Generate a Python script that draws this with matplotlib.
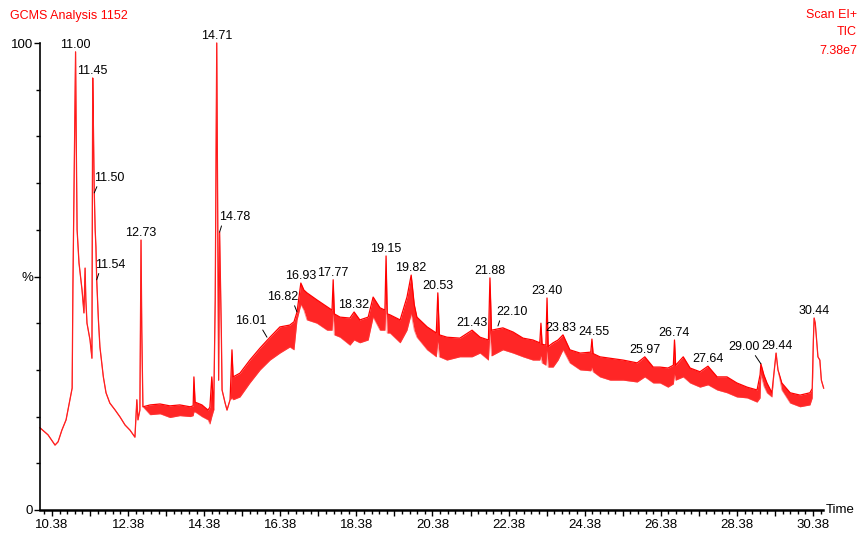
import matplotlib
matplotlib.use("Agg")
import numpy as np
import matplotlib.pyplot as plt

plt.rcParams['font.family'] = ['Liberation Sans', 'DejaVu Sans']

RED = "#ff0000"
FS = 9

# retention time (min), upper edge of the trace and lower edge of the noise
rt = [10.065, 10.275, 10.46, 10.54, 10.64, 10.75, 10.85, 10.91, 10.93, 10.97,
      11.00, 11.02, 11.04, 11.09, 11.17, 11.22, 11.25, 11.27, 11.30, 11.38,
      11.43, 11.45, 11.47, 11.49, 11.515, 11.535, 11.555, 11.60, 11.64, 11.73,
      11.80, 11.90, 12.04, 12.17, 12.30, 12.43, 12.56, 12.61, 12.64, 12.69,
      12.72, 12.74, 12.77,
      12.96, 13.22, 13.48, 13.74, 14.01, 14.09, 14.11, 14.14, 14.32, 14.48,
      14.53, 14.58, 14.63, 14.67, 14.71, 14.74, 14.76, 14.785, 14.83, 14.85,
      14.93, 14.98, 15.06, 15.11, 15.14,
      15.32, 15.58, 15.85, 16.11, 16.37, 16.63, 16.74, 16.82, 16.92, 17.00,
      17.08, 17.34, 17.61, 17.74, 17.77, 17.80, 17.95, 18.21, 18.32, 18.47,
      18.69, 18.82, 19.00, 19.13, 19.16, 19.19, 19.26, 19.53, 19.71, 19.82,
      19.90, 19.97, 20.24, 20.48, 20.52, 20.56, 20.76, 21.10, 21.42, 21.63,
      21.85, 21.89, 21.93, 22.23, 22.50, 22.76, 23.02, 23.20, 23.23, 23.26,
      23.36, 23.39, 23.42, 23.55, 23.68, 23.81, 23.99, 24.26, 24.54, 24.57,
      24.60, 24.78, 25.05, 25.39, 25.76, 25.96, 26.18, 26.36, 26.57, 26.71,
      26.74, 26.77, 26.97, 27.15, 27.41, 27.62, 27.86, 28.12, 28.38, 28.65,
      28.91, 28.99, 29.01, 29.09, 29.17, 29.30, 29.35, 29.41, 29.46, 29.56,
      29.78, 30.04, 30.30, 30.36, 30.39, 30.41, 30.44, 30.47, 30.51, 30.56,
      30.60, 30.66]

tic_hi = [17.6, 16.1, 13.9, 14.6, 17.1, 19.3, 23.6, 26.1, 47.8, 77.1,
          98.1, 77.0, 60.0, 52.9, 47.1, 42.2, 51.8, 45.0, 40.0, 36.4,
          32.5, 92.5, 81.4, 68.5, 60.0, 56.3, 49.3, 40.7, 34.9, 28.5,
          25.1, 22.9, 21.4, 19.9, 18.2, 17.1, 15.6, 23.6, 19.3, 21.4,
          57.8, 38.5, 22.1,
          22.5, 22.7, 22.3, 22.5, 22.1, 22.3, 28.5, 23.1, 22.5, 21.4,
          22.0, 28.5, 21.4, 45.0, 100.0, 55.7, 27.8, 59.5, 38.5, 25.7,
          22.9, 21.4, 23.6, 34.3, 28.5,
          29.3, 32.1, 34.7, 37.0, 39.2, 39.6, 40.3, 42.4, 48.6, 47.1,
          46.5, 45.0, 43.5, 42.8, 49.3, 42.0, 41.3, 41.1, 42.4, 40.7,
          41.3, 45.6, 43.3, 42.8, 54.4, 42.0, 41.8, 40.7, 45.6, 50.3,
          44.0, 41.3, 39.2, 37.9, 46.5, 37.5, 37.0, 36.8, 38.5, 37.0,
          36.4, 49.7, 38.5, 39.0, 38.1, 36.8, 36.4, 35.8, 40.0, 35.5,
          35.3, 45.4, 35.0, 35.8, 36.4, 37.5, 34.3, 33.6, 33.8, 36.6,
          33.5, 32.8, 32.5, 32.1, 31.5, 32.8, 30.6, 30.6, 30.4, 31.0,
          36.4, 31.0, 32.8, 30.4, 29.6, 30.8, 28.5, 28.5, 27.2, 26.3,
          25.7, 29.0, 31.3, 28.9, 27.2, 25.1, 28.9, 33.6, 30.0, 27.2,
          25.1, 24.6, 25.1, 26.0, 36.4, 41.1, 40.0, 37.0, 32.8, 32.1,
          27.8, 26.1]

tic_lo = [17.6, 16.1, 13.9, 14.6, 17.1, 19.3, 23.6, 26.1, 47.8, 77.1,
          98.1, 77.0, 60.0, 52.9, 47.1, 42.2, 51.8, 45.0, 40.0, 36.4,
          32.5, 92.5, 81.4, 68.5, 60.0, 56.3, 49.3, 40.7, 34.9, 28.5,
          25.1, 22.9, 21.4, 19.9, 18.2, 17.1, 15.6, 23.6, 19.3, 21.4,
          57.8, 38.5, 22.1,
          20.4, 20.6, 19.8, 20.2, 20.0, 20.2, 21.0, 21.0, 20.0, 19.3,
          18.4, 20.0, 21.4, 45.0, 100.0, 55.7, 27.8, 59.5, 38.5, 25.7,
          22.9, 21.4, 23.6, 24.0, 23.6,
          24.2, 27.2, 30.0, 32.1, 33.6, 34.9, 34.3, 40.7, 44.0, 42.8,
          40.7, 40.0, 38.5, 38.5, 42.0, 37.5, 37.0, 35.3, 36.4, 35.8,
          36.4, 41.3, 38.5, 38.5, 44.0, 37.9, 37.9, 35.8, 38.5, 42.0,
          38.5, 37.0, 34.3, 32.8, 36.0, 32.8, 32.1, 32.8, 32.8, 33.6,
          32.1, 38.0, 33.0, 34.3, 33.6, 32.8, 32.1, 32.1, 33.0, 31.5,
          31.0, 34.0, 30.6, 30.6, 32.1, 34.3, 31.5, 30.0, 29.8, 30.5,
          29.6, 28.5, 27.8, 27.8, 27.4, 28.5, 27.2, 27.2, 26.3, 27.0,
          29.0, 27.8, 28.5, 27.2, 26.3, 26.8, 25.7, 25.1, 24.2, 24.0,
          23.1, 24.0, 29.0, 26.5, 25.1, 24.2, 28.9, 33.6, 30.0, 25.7,
          22.9, 22.1, 22.5, 24.0, 36.4, 41.1, 40.0, 37.0, 32.8, 32.1,
          27.8, 26.1]

# labelled peaks: text, retention time and height of the point it marks
peak_labels = ["11.00", "11.45", "11.50", "11.54", "12.73", "14.71", "14.78",
               "16.01", "16.82", "16.93", "17.77", "18.32", "19.15", "19.82",
               "20.53", "21.43", "21.88", "22.10", "23.40", "23.83", "24.55",
               "25.97", "26.74", "27.64", "29.00", "29.44", "30.44"]
peak_rt = [11.00, 11.45, 11.49, 11.555, 12.72, 14.71, 14.785,
           16.03, 16.82, 16.92, 17.77, 18.32, 19.16, 19.82,
           20.52, 21.42, 21.89, 22.10, 23.39, 23.81, 24.57,
           25.96, 26.74, 27.62, 29.01, 29.41, 30.41]
peak_pct = [98.1, 92.5, 67.9, 49.3, 57.8, 100.0, 59.5,
            37.0, 42.4, 48.6, 49.3, 42.4, 54.4, 50.3,
            46.5, 38.5, 49.7, 39.4, 45.4, 37.5, 36.6,
            32.8, 36.4, 30.8, 31.3, 33.6, 41.1]

# labels drawn with a short leader line: (dx, dy) pixels of text centre, line start on text box
leaders = {
    "11.50": ((15, 15), (0.15, 0.1)),
    "11.54": ((14, 15), (0.15, 0.1)),
    "14.78": ((15, 15), (0.12, 0.1)),
    "16.01": ((-16, 16), (0.8, 0.1)),
    "16.82": ((-14, 15), (0.82, 0.1)),
    "22.10": ((14, 14), (0.15, 0.1)),
    "29.00": ((-17, 17), (0.78, 0.1)),
}
# small sideways nudges (pixels) so neighbouring labels do not touch
nudge = {"23.83": -2, "24.55": 2, "29.44": 1}

x_tick_labels = ["10.38", "12.38", "14.38", "16.38", "18.38", "20.38",
                 "22.38", "24.38", "26.38", "28.38", "30.38"]

fig = plt.figure(figsize=(8.59, 5.36), dpi=100)
ax = fig.add_axes([40 / 859, 26 / 536, 783 / 859, 467 / 536])

# noise band between the two edges, then the edges themselves
ax.fill_between(rt, tic_lo, tic_hi, color=RED, alpha=0.85, lw=0)
ax.plot(rt, tic_hi, color=RED, lw=0.9, clip_on=False)
ax.plot(rt, tic_lo, color="#ff4040", lw=0.6, alpha=0.6, clip_on=False)

ax.set_xlim(10.065, 30.643)
ax.set_ylim(0, 100)

for side in ("top", "right"):
    ax.spines[side].set_visible(False)
ax.spines["left"].set_linewidth(1.2)
ax.spines["bottom"].set_linewidth(1.8)

# x ticks: long tick every minute, label every two, short tick every 0.2
major_x = [float(x_tick_labels[0]) + i for i in range(21)]
major_lbl = [x_tick_labels[i // 2] if i % 2 == 0 else "" for i in range(21)]
ax.set_xticks(major_x)
ax.set_xticklabels(major_lbl)
ax.set_xticks(np.arange(10.18, 30.64, 0.2), minor=True)

ax.set_yticks([0, 50, 100])
ax.set_yticklabels(["0", "%", "100"])
ax.set_yticks(np.arange(0, 101, 10), minor=True)

ax.tick_params(axis="both", which="major", length=4.5, width=1, labelsize=FS + 0.5,
               colors="black", pad=2)
ax.tick_params(axis="both", which="minor", length=3, width=1)
ax.tick_params(axis="y", which="major", pad=0.5)

for lbl, t, p in zip(peak_labels, peak_rt, peak_pct):
    if lbl in leaders:
        (dx, dy), rel = leaders[lbl]
        ax.annotate(lbl, xy=(t, p), xytext=(dx, dy), textcoords="offset pixels",
                    ha="center", va="center", fontsize=FS, annotation_clip=False,
                    arrowprops=dict(arrowstyle="-", color="black", lw=0.7,
                                    shrinkA=0, shrinkB=0, relpos=rel))
    else:
        ax.annotate(lbl, xy=(t, p), xytext=(nudge.get(lbl, 0), 4),
                    textcoords="offset pixels", ha="center", va="baseline",
                    fontsize=FS, annotation_clip=False)

ax.text(1.004, 0, "Time", transform=ax.transAxes, ha="left", va="center",
        fontsize=FS + 0.5)

fig.text(10 / 859, 1 - 16 / 536, "GCMS Analysis 1152", color=RED, fontsize=FS,
         ha="left", va="center")
fig.text(857 / 859, 1 - 15.5 / 536, "Scan EI+", color=RED, fontsize=FS,
         ha="right", va="center")
fig.text(857 / 859, 1 - 32 / 536, "TIC", color=RED, fontsize=FS,
         ha="right", va="center")
fig.text(857 / 859, 1 - 51 / 536, "7.38e7", color=RED, fontsize=FS,
         ha="right", va="center")

fig.savefig("out.png", dpi=100)
